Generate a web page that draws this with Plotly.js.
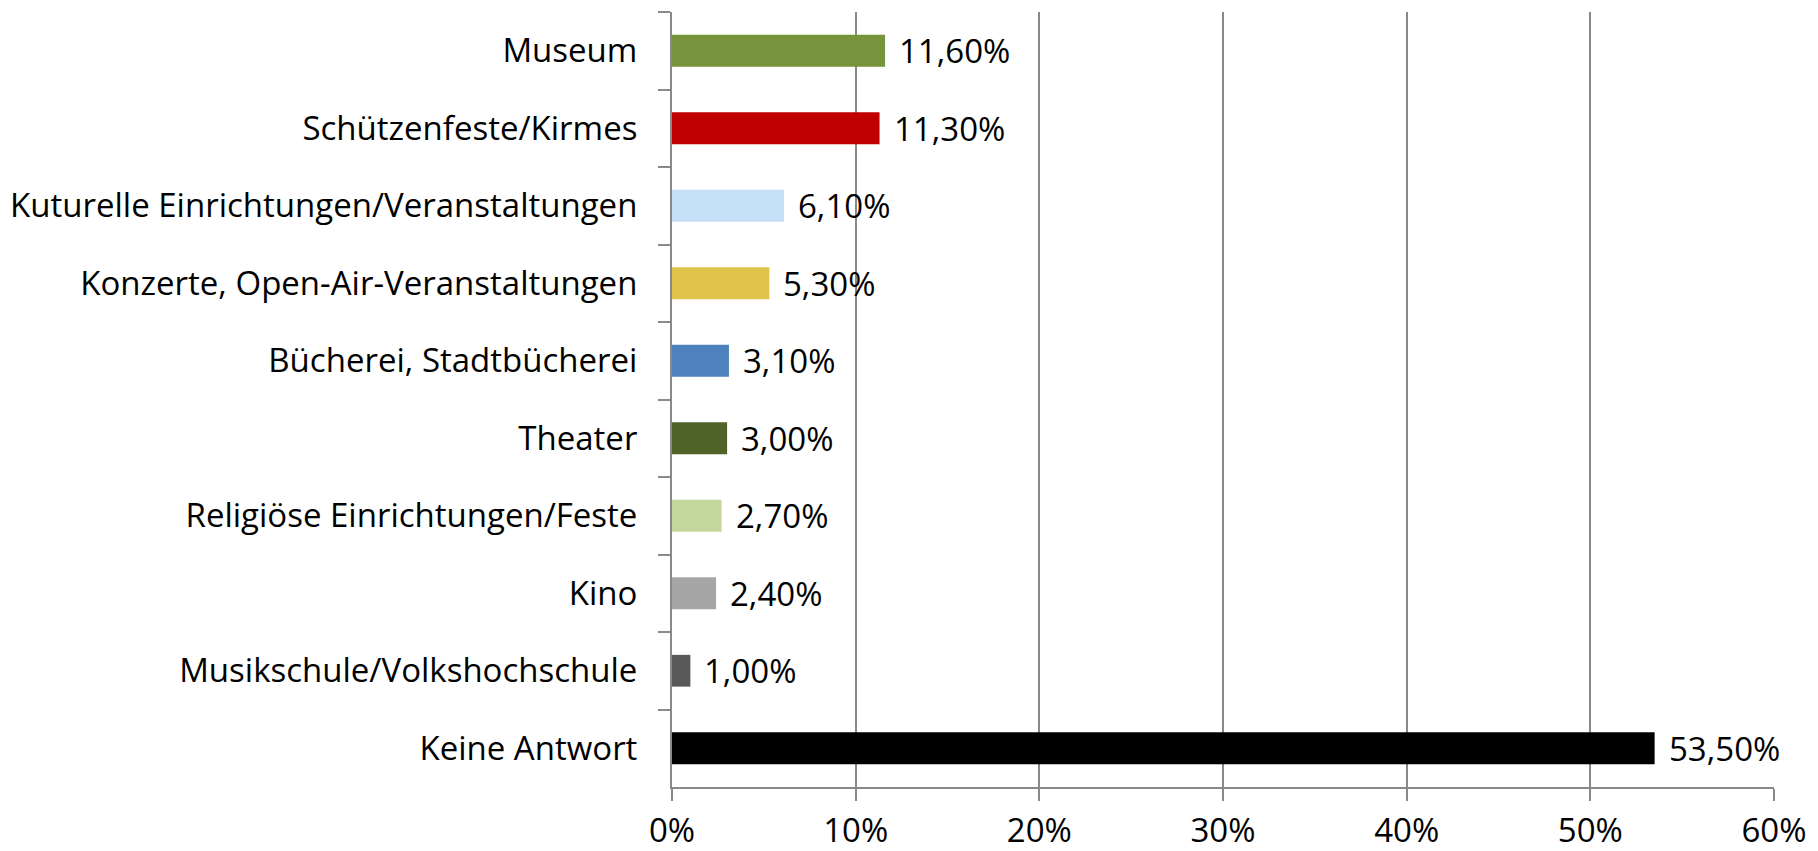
<!DOCTYPE html>
<html>
<head>
<meta charset="utf-8">
<script src="https://cdn.plot.ly/plotly-3.0.1.min.js"></script>
<style>html,body{margin:0;padding:0;background:#fff}#chart{width:1818px;height:851px}</style>
</head>
<body>
<div id="chart"></div>
<script>
const categories = [
  "Museum",
  "Schützenfeste/Kirmes",
  "Kuturelle Einrichtungen/Veranstaltungen",
  "Konzerte, Open-Air-Veranstaltungen",
  "Bücherei, Stadtbücherei",
  "Theater",
  "Religiöse Einrichtungen/Feste",
  "Kino",
  "Musikschule/Volkshochschule",
  "Keine Antwort"
];
const values = [0.116, 0.113, 0.061, 0.053, 0.031, 0.030, 0.027, 0.024, 0.010, 0.535];
const valueLabels = ["11,60%", "11,30%", "6,10%", "5,30%", "3,10%", "3,00%", "2,70%", "2,40%", "1,00%", "53,50%"];
const barColors = ["#77933C", "#C00000", "#C6E0F7", "#DFC34A", "#4F81BD", "#4F6228", "#C3D69B", "#A6A6A6", "#595959", "#000000"];
const xTickVals = [0, 0.1, 0.2, 0.3, 0.4, 0.5, 0.6];
const xTickText = ["0%", "10%", "20%", "30%", "40%", "50%", "60%"];

const FONT = "Open Sans, Noto Sans, sans-serif";
const FS = 33;
const axisGray = "#898989";

const trace = {
  type: "bar",
  orientation: "h",
  y: categories,
  x: values,
  marker: {color: barColors, line: {width: 0}},
  hoverinfo: "skip"
};

const annotations = categories.map((c, i) => ({
  xref: "x", yref: "y",
  x: values[i], y: c,
  text: valueLabels[i],
  showarrow: false,
  xanchor: "left",
  yanchor: "middle",
  xshift: 12,
  font: {family: FONT, size: FS, color: "#000"}
}));

const layout = {
  width: 1818, height: 851,
  margin: {l: 672, r: 44, t: 12, b: 64},
  paper_bgcolor: "#fff",
  plot_bgcolor: "#fff",
  showlegend: false,
  bargap: 0.59,
  font: {family: FONT, size: FS, color: "#000"},
  xaxis: {
    range: [0, 0.6],
    tickvals: xTickVals,
    ticktext: xTickText,
    showgrid: true,
    gridcolor: axisGray,
    gridwidth: 2,
    zeroline: false,
    showline: true,
    linecolor: axisGray,
    linewidth: 2,
    ticks: "outside",
    ticklen: 12,
    tickwidth: 2,
    tickcolor: axisGray,
    ticklabelstandoff: 1,
    tickfont: {family: FONT, size: FS, color: "#000"},
    fixedrange: true
  },
  yaxis: {
    type: "category",
    autorange: "reversed",
    showgrid: false,
    zeroline: false,
    showline: true,
    linecolor: axisGray,
    linewidth: 2,
    ticks: "outside",
    tickson: "boundaries",
    ticklen: 12,
    tickwidth: 2,
    tickcolor: axisGray,
    ticklabelstandoff: 26,
    tickfont: {family: FONT, size: FS, color: "#000"},
    fixedrange: true
  },
  annotations: annotations
};

Plotly.newPlot("chart", [trace], layout, {displayModeBar: false, staticPlot: true});
</script>
</body>
</html>
